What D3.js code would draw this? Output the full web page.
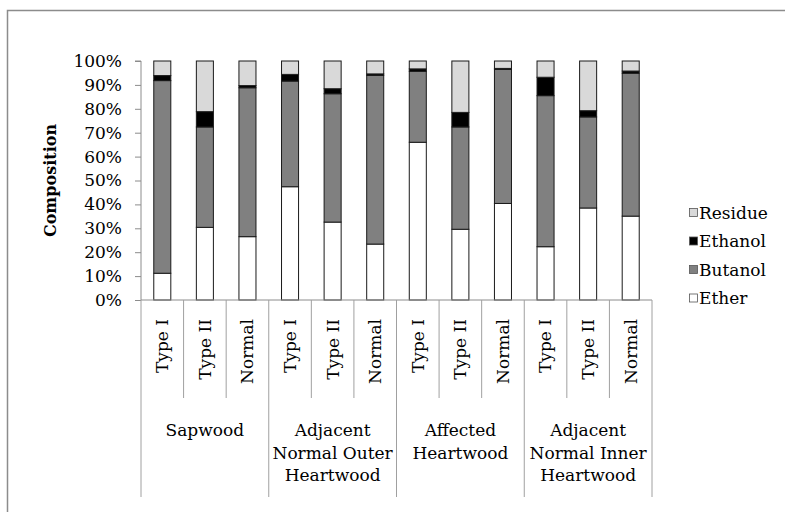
<!DOCTYPE html>
<html lang="en">
<head>
<meta charset="UTF-8">
<title>Composition</title>
<script src="https://d3js.org/d3.v7.min.js"></script>
<style>
    body { margin: 0; background: #fff; }
    svg { display: block; }
    text { font-family: "DejaVu Serif", serif; fill: #000; }
</style>
</head>
<body>
<div id="chart"></div>
<script>
    // values (percent of each bar)
    const subLabels = ["Type I", "Type II", "Normal"];
    const groupLabels = [
        ["Sapwood"],
        ["Adjacent", "Normal Outer", "Heartwood"],
        ["Affected", "Heartwood"],
        ["Adjacent", "Normal Inner", "Heartwood"]
    ];
    const ether   = [11.2, 30.4, 26.5, 47.4, 32.6, 23.4, 66.0, 29.6, 40.4, 22.3, 38.5, 35.1];
    const butanol = [80.6, 42.0, 62.3, 44.2, 53.7, 70.6, 29.7, 42.8, 56.1, 63.2, 38.1, 59.8];
    const ethanol = [2.1, 6.4, 0.9, 2.8, 2.1, 0.6, 1.0, 6.1, 0.4, 7.7, 2.6, 0.9];
    const residue = [6.1, 21.2, 10.3, 5.6, 11.6, 5.4, 3.3, 21.5, 3.1, 6.8, 20.8, 4.2];
    const seriesNames = ["Ether", "Butanol", "Ethanol", "Residue"];
    const seriesColors = ["#ffffff", "#808080", "#000000", "#d9d9d9"];
    const yTicks = [0, 0.1, 0.2, 0.3, 0.4, 0.5, 0.6, 0.7, 0.8, 0.9, 1];

    const W = 785, H = 512;
    const plot = { left: 141, right: 652, top: 61, bottom: 300 };

    const rows = ether.map((d, i) => ({
        idx: i,
        Ether: d, Butanol: butanol[i], Ethanol: ethanol[i], Residue: residue[i]
    }));

    const svg = d3.select("#chart").append("svg").attr("width", W).attr("height", H);

    // outer chart frame (right and bottom edges are off-canvas)
    svg.append("rect")
        .attr("x", 7.5).attr("y", 10.5)
        .attr("width", W + 10).attr("height", H + 10)
        .attr("fill", "none").attr("stroke", "#8c8c8c").attr("stroke-width", 1.5);

    const idx = d3.range(rows.length);
    const x = d3.scaleBand().domain(idx).range([plot.left, plot.right])
        .paddingInner(0.6).paddingOuter(0.3);
    const cell = d3.scaleBand().domain(idx).range([plot.left, plot.right]);
    const y = d3.scaleLinear().domain([0, 1]).range([plot.bottom, plot.top]);

    const stack = d3.stack().keys(seriesNames).offset(d3.stackOffsetExpand);
    const layers = stack(rows);

    // y axis
    const yAxis = svg.append("g")
        .attr("transform", `translate(${plot.left},0)`)
        .call(d3.axisLeft(y).tickValues(yTicks).tickFormat(d3.format(".0%")).tickSize(6).tickPadding(13));
    yAxis.select(".domain").attr("stroke", "#8c8c8c").attr("d", `M-6,${y(1)}H0V${plot.bottom}`);
    yAxis.selectAll(".tick line").attr("stroke", "#8c8c8c");
    yAxis.selectAll(".tick text").style("font-size", "17px").style("font-family", "DejaVu Serif, serif");

    svg.append("text")
        .attr("transform", `translate(50,${(plot.top + plot.bottom) / 2}) rotate(-90)`)
        .attr("text-anchor", "middle").attr("dy", "0.35em")
        .style("font-size", "16px").style("font-weight", "bold")
        .text("Composition");

    // bars
    svg.append("g").selectAll("g")
        .data(layers).join("g")
        .attr("fill", (d, i) => seriesColors[i])
        .selectAll("rect")
        .data(d => d).join("rect")
        .attr("x", d => x(d.data.idx))
        .attr("width", x.bandwidth())
        .attr("y", d => y(d[1]))
        .attr("height", d => y(d[0]) - y(d[1]))
        .attr("stroke", "#1a1a1a").attr("stroke-width", 1);

    // category axis
    const xg = svg.append("g");
    xg.append("line")
        .attr("x1", plot.left).attr("x2", plot.right)
        .attr("y1", plot.bottom).attr("y2", plot.bottom)
        .attr("stroke", "#8c8c8c");
    d3.range(rows.length + 1).forEach(i => {
        const xx = plot.left + i * cell.step();
        const major = i % 3 === 0;
        xg.append("line")
            .attr("x1", xx).attr("x2", xx)
            .attr("y1", plot.bottom).attr("y2", major ? 497 : 398)
            .attr("stroke", "#a0a0a0");
    });

    xg.selectAll(".sub").data(idx).join("text")
        .attr("class", "sub")
        .attr("transform", i => `translate(${cell(i) + cell.bandwidth() / 2},319) rotate(-90)`)
        .attr("text-anchor", "end").attr("dy", "0.35em")
        .style("font-size", "17px")
        .text(i => subLabels[i % 3]);

    groupLabels.forEach((lines, g) => {
        const cx = plot.left + (g * 3 + 1.5) * cell.step();
        const t = xg.append("text").attr("text-anchor", "middle").style("font-size", "17px");
        lines.forEach((ln, k) => {
            t.append("tspan").attr("x", cx).attr("y", 436 + k * 22.5).text(ln);
        });
    });

    // legend, top entry is the top stack layer
    const legendOrder = seriesNames.slice().reverse();
    const lg = svg.append("g").attr("transform", "translate(689,0)");
    legendOrder.forEach((name, k) => {
        const cy = 213 + k * 28.5;
        lg.append("rect")
            .attr("x", 0.5).attr("y", cy - 4.5)
            .attr("width", 8).attr("height", 8)
            .attr("fill", seriesColors[seriesNames.indexOf(name)])
            .attr("stroke", "#555").attr("stroke-width", 0.8);
        lg.append("text")
            .attr("x", 10).attr("y", cy).attr("dy", "0.35em")
            .style("font-size", "17px")
            .text(name);
    });
</script>
</body>
</html>
